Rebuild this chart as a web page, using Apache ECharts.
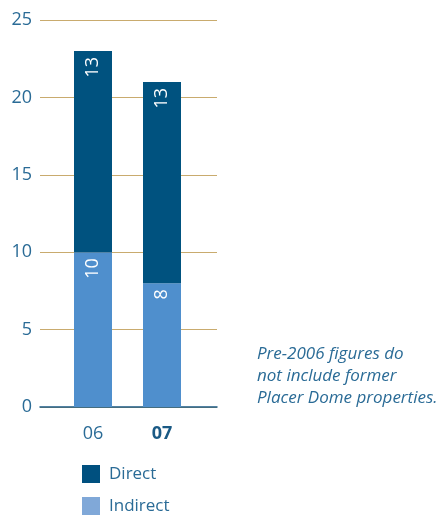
<!DOCTYPE html>
<html><head><meta charset="utf-8">
<script src="https://cdn.jsdelivr.net/npm/echarts@6/dist/echarts.min.js"></script>
<style>html,body{margin:0;padding:0;background:#fff}#c{width:439px;height:515px}</style>
</head><body><div id="c"></div>
<script>
const categories = ['06', '07'];
const indirect = [10, 8];
const direct = [13, 13];
const yTicks = [0, 5, 10, 15, 20, 25];
const noteLines = ['Pre-2006 figures do', 'not include former', 'Placer Dome properties.'];

const txt = '#2a6b96';
const font = 'Open Sans';
const chart = echarts.init(document.getElementById('c'));
const lbl = {
  show: true, position: 'insideTop', rotate: 90, align: 'right', verticalAlign: 'middle',
  distance: 6, color: '#fff', fontSize: 18, fontFamily: font
};
chart.setOption({
  animation: false,
  grid: [
    {left: 40, right: 222, top: 20, bottom: 108},
    {left: 58.5, right: 242.5, top: 20, bottom: 108}
  ],
  xAxis: [
    {gridIndex: 0, type: 'category', data: categories, axisLabel: {show: false}, axisTick: {show: false},
     axisLine: {lineStyle: {color: '#1a5a85', width: 1.5}}},
    {gridIndex: 1, type: 'category', data: categories, axisTick: {show: false}, axisLine: {show: false},
     axisLabel: {interval: 0, hideOverlap: false, margin: 18, fontSize: 18, fontFamily: font, color: txt,
       formatter: v => v === '07' ? '{b|' + v + '}' : v,
       rich: {b: {fontWeight: 'bold', fontSize: 18, fontFamily: font, color: '#1a5a85'}}}}
  ],
  yAxis: [
    {gridIndex: 0, type: 'value', min: yTicks[0], max: yTicks[yTicks.length - 1], interval: 5,
     axisLine: {show: false}, axisTick: {show: false},
     axisLabel: {margin: 8, fontSize: 18, fontFamily: font, color: txt},
     splitLine: {lineStyle: {color: '#c9ab6e', width: 1.2}}},
    {gridIndex: 1, type: 'value', min: 0, max: 25, interval: 5, show: false, splitLine: {show: false}}
  ],
  legend: {
    orient: 'vertical', left: 82, top: 465, padding: 0, itemWidth: 18, itemHeight: 18, itemGap: 14,
    icon: 'rect', textStyle: {fontSize: 17, fontFamily: font, color: txt, padding: [0, 0, 0, 4]},
    data: [
      {name: 'Direct', itemStyle: {color: '#00507f'}},
      {name: 'Indirect', itemStyle: {color: '#80a8d8'}}
    ]
  },
  series: [
    {name: 'Indirect', type: 'bar', stack: 's', xAxisIndex: 1, yAxisIndex: 1, data: indirect,
     barWidth: 38, itemStyle: {color: '#4f8fcd'}, label: lbl},
    {name: 'Direct', type: 'bar', stack: 's', xAxisIndex: 1, yAxisIndex: 1, data: direct,
     barWidth: 38, itemStyle: {color: '#00527f'}, label: lbl}
  ],
  graphic: noteLines.map((t, i) => ({
    type: 'text', left: 257, top: 346 + i * 22,
    style: {text: t, fontSize: 17, fontStyle: 'italic', fontFamily: font, fill: txt}
  }))
});
</script></body></html>
